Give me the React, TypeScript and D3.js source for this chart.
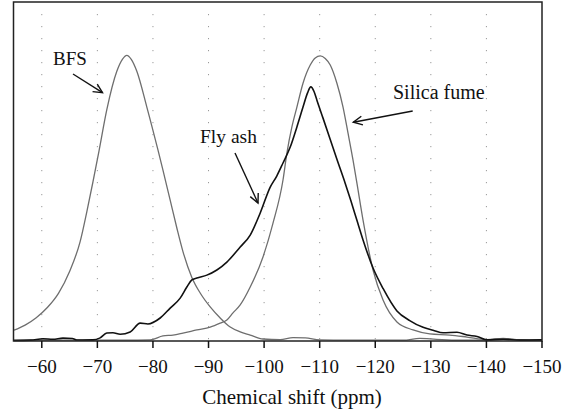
import React from "react";
import * as d3 from "d3";

// Chemical shift (ppm) vs intensity (silica fume peak = 100)
const bfsData: [number, number][] = [
  [-55, 3.8], [-57, 5.6], [-59, 8.2], [-61, 11.8], [-63, 16.8], [-65, 24.5],
  [-66.9, 35.0], [-68.1, 45.5], [-69.2, 56.0], [-70.3, 67.0], [-71.7, 81.5],
  [-73.5, 95.0], [-74.5, 99.2], [-75.3, 100.6], [-76.1, 99.2], [-77.1, 95.0], [-78.9, 82.4],
  [-80.9, 67.3], [-81.8, 60.2], [-83.1, 49.6], [-84.3, 39.8], [-85.4, 31.5], [-87.0, 22.4],
  [-88.5, 16.9], [-90.3, 12.0], [-92.1, 8.1], [-93.9, 4.9], [-95.7, 3.2], [-97.5, 2.1],
  [-99.8, 0.7], [-102.9, 0.5], [-105.2, 1.2], [-107.4, 1.1], [-110, 0.4],
  [-115, 0.3], [-120, 0.3], [-125, 0.3], [-128, 0.9], [-131, 0.6], [-135, 0.3],
  [-140, 0.3], [-143, 0.8], [-146, 0.4], [-150, 0.3],
];

const silicaData: [number, number][] = [
  [-55, 0.3], [-60, 0.3], [-65, 0.3], [-70, 0.3], [-75, 0.3], [-79.5, 0.4],
  [-81.8, 1.8], [-83.6, 2.1], [-85.4, 2.8], [-87.9, 3.9], [-90.3, 4.9], [-92.1, 6.3],
  [-93.3, 7.4], [-94.4, 9.9], [-95.7, 12.7], [-97.5, 19.0], [-99.8, 29.6], [-101.6, 41.5],
  [-103.4, 56.7], [-104.1, 66.2], [-105.0, 75.4], [-105.9, 82.4], [-107.0, 90.8],
  [-108.3, 97.2], [-109.2, 99.7], [-110.1, 100.4], [-111.0, 99.5], [-111.9, 97.2],
  [-113.1, 90.8], [-114.2, 82.4], [-115.1, 73.2], [-116.0, 63.7], [-116.7, 55.6],
  [-117.8, 42.6], [-119.6, 25.0], [-121.4, 14.4], [-123.9, 6.7], [-126.8, 3.9],
  [-129.8, 2.5], [-133.4, 2.1], [-136.5, 1.4], [-140.1, 0.5], [-143, 0.9], [-146, 0.4],
  [-150, 0.3],
];

const flyAshData: [number, number][] = [
  [-55, 0.2], [-58, 0.3], [-60.2, 0.8], [-62, 0.6], [-63.8, 1.0], [-65.5, 0.9],
  [-66.3, 0.35], [-69.2, 0.4], [-70.5, 1.1], [-71.7, 2.8], [-72.8, 2.9], [-74.1, 2.4],
  [-75.9, 3.2], [-77.7, 6.3], [-79.1, 6.0], [-81.3, 8.1], [-83.1, 11.6], [-84.9, 15.1],
  [-86.1, 19.0], [-87.0, 21.5], [-87.9, 22.2], [-89.7, 23.2], [-91.5, 25.0],
  [-93.3, 27.8], [-95.7, 33.1], [-97.5, 37.3], [-99.3, 45.1], [-101.1, 54.2],
  [-102.3, 58.2], [-103.4, 62.7], [-104.7, 68.3], [-105.9, 75.4], [-107.0, 82.4],
  [-107.8, 87.3], [-108.4, 89.5], [-109.0, 87.8], [-109.5, 84.8], [-110.6, 78.5],
  [-111.9, 71.0], [-113.1, 64.0], [-114.6, 55.5], [-115.6, 49.5], [-116.7, 42.5],
  [-117.8, 35.6], [-119.6, 25.7], [-121.4, 18.5], [-123.9, 10.6], [-126.2, 7.2],
  [-128.6, 4.8], [-130.4, 3.8], [-132.2, 2.9], [-134.7, 3.1], [-136.5, 2.1],
  [-138.3, 1.6], [-140.1, 0.4], [-143, 0.6], [-146, 0.3], [-150, 0.4],
];

const xTicks = [-60, -70, -80, -90, -100, -110, -120, -130, -140, -150];
const xTitle = "Chemical shift (ppm)";

const W = 575;
const H = 413;
const L = 14, R = 542, T = 2, B = 341;
const FONT = '"Liberation Serif", "DejaVu Serif", "Noto Serif", Tinos, Times, serif';

function Arrow({ x1, y1, x2, y2 }: { x1: number; y1: number; x2: number; y2: number }) {
  const ang = Math.atan2(y2 - y1, x2 - x1);
  const len = 10;
  const spread = (26 * Math.PI) / 180;
  const a1 = ang + Math.PI - spread;
  const a2 = ang + Math.PI + spread;
  const p1 = [x2 + len * Math.cos(a1), y2 + len * Math.sin(a1)];
  const p2 = [x2 + len * Math.cos(a2), y2 + len * Math.sin(a2)];
  return (
    <g stroke="#111" strokeWidth={1.4} fill="none">
      <line x1={x1} y1={y1} x2={x2} y2={y2} />
      <polyline points={`${p1[0]},${p1[1]} ${x2},${y2} ${p2[0]},${p2[1]}`} />
    </g>
  );
}

export default function App() {
  const x = d3.scaleLinear().domain([-55, -150]).range([L, R]);
  const y = d3.scaleLinear().domain([0, 119.4]).range([B, T]);
  const line = d3
    .line<[number, number]>()
    .x((d) => x(d[0]))
    .y((d) => y(d[1]))
    .curve(d3.curveMonotoneX);
  const fmt = (t: number) => d3.format("d")(t).replace("-", "\u2212");
  const txt = { fontFamily: FONT, fill: "#111" } as React.CSSProperties;

  return (
    <svg
      width={W}
      height={H}
      style={{ position: "absolute", left: 0, top: 0, background: "#fff" }}
    >
      {xTicks
        .filter((t) => t !== -150)
        .map((t) => (
          <line
            key={"g" + t}
            x1={x(t)}
            x2={x(t)}
            y1={T + 12}
            y2={B}
            stroke="#999"
            strokeWidth={1}
            strokeDasharray="1.2,10.8"
          />
        ))}
      <path d={line(silicaData) || ""} fill="none" stroke="#6e6e6e" strokeWidth={1.3} />
      <path d={line(bfsData) || ""} fill="none" stroke="#6e6e6e" strokeWidth={1.3} />
      <path d={line(flyAshData) || ""} fill="none" stroke="#111" strokeWidth={1.6} />
      <rect x={L - 0.5} y={T} width={R - L + 0.5} height={B - T} fill="none" stroke="#222" strokeWidth={1.5} />
      {xTicks.map((t) => (
        <g key={"t" + t}>
          <line x1={x(t)} x2={x(t)} y1={B} y2={B + 7} stroke="#111" strokeWidth={1.5} />
          <text x={x(t)} y={373} textAnchor="middle" style={{ ...txt, fontSize: 19 }}>
            {fmt(t)}
          </text>
        </g>
      ))}
      <text x={292} y={404} textAnchor="middle" style={{ ...txt, fontSize: 21 }}>
        {xTitle}
      </text>
      <text x={53} y={65} style={{ ...txt, fontSize: 19 }}>BFS</text>
      <text x={200} y={143} style={{ ...txt, fontSize: 19.5 }}>Fly ash</text>
      <text x={393} y={99} style={{ ...txt, fontSize: 20 }}>Silica fume</text>
      <Arrow x1={73} y1={74} x2={102.5} y2={92.7} />
      <Arrow x1={235} y1={153} x2={258} y2={203} />
      <Arrow x1={412.7} y1={111} x2={353.3} y2={122.3} />
    </svg>
  );
}
